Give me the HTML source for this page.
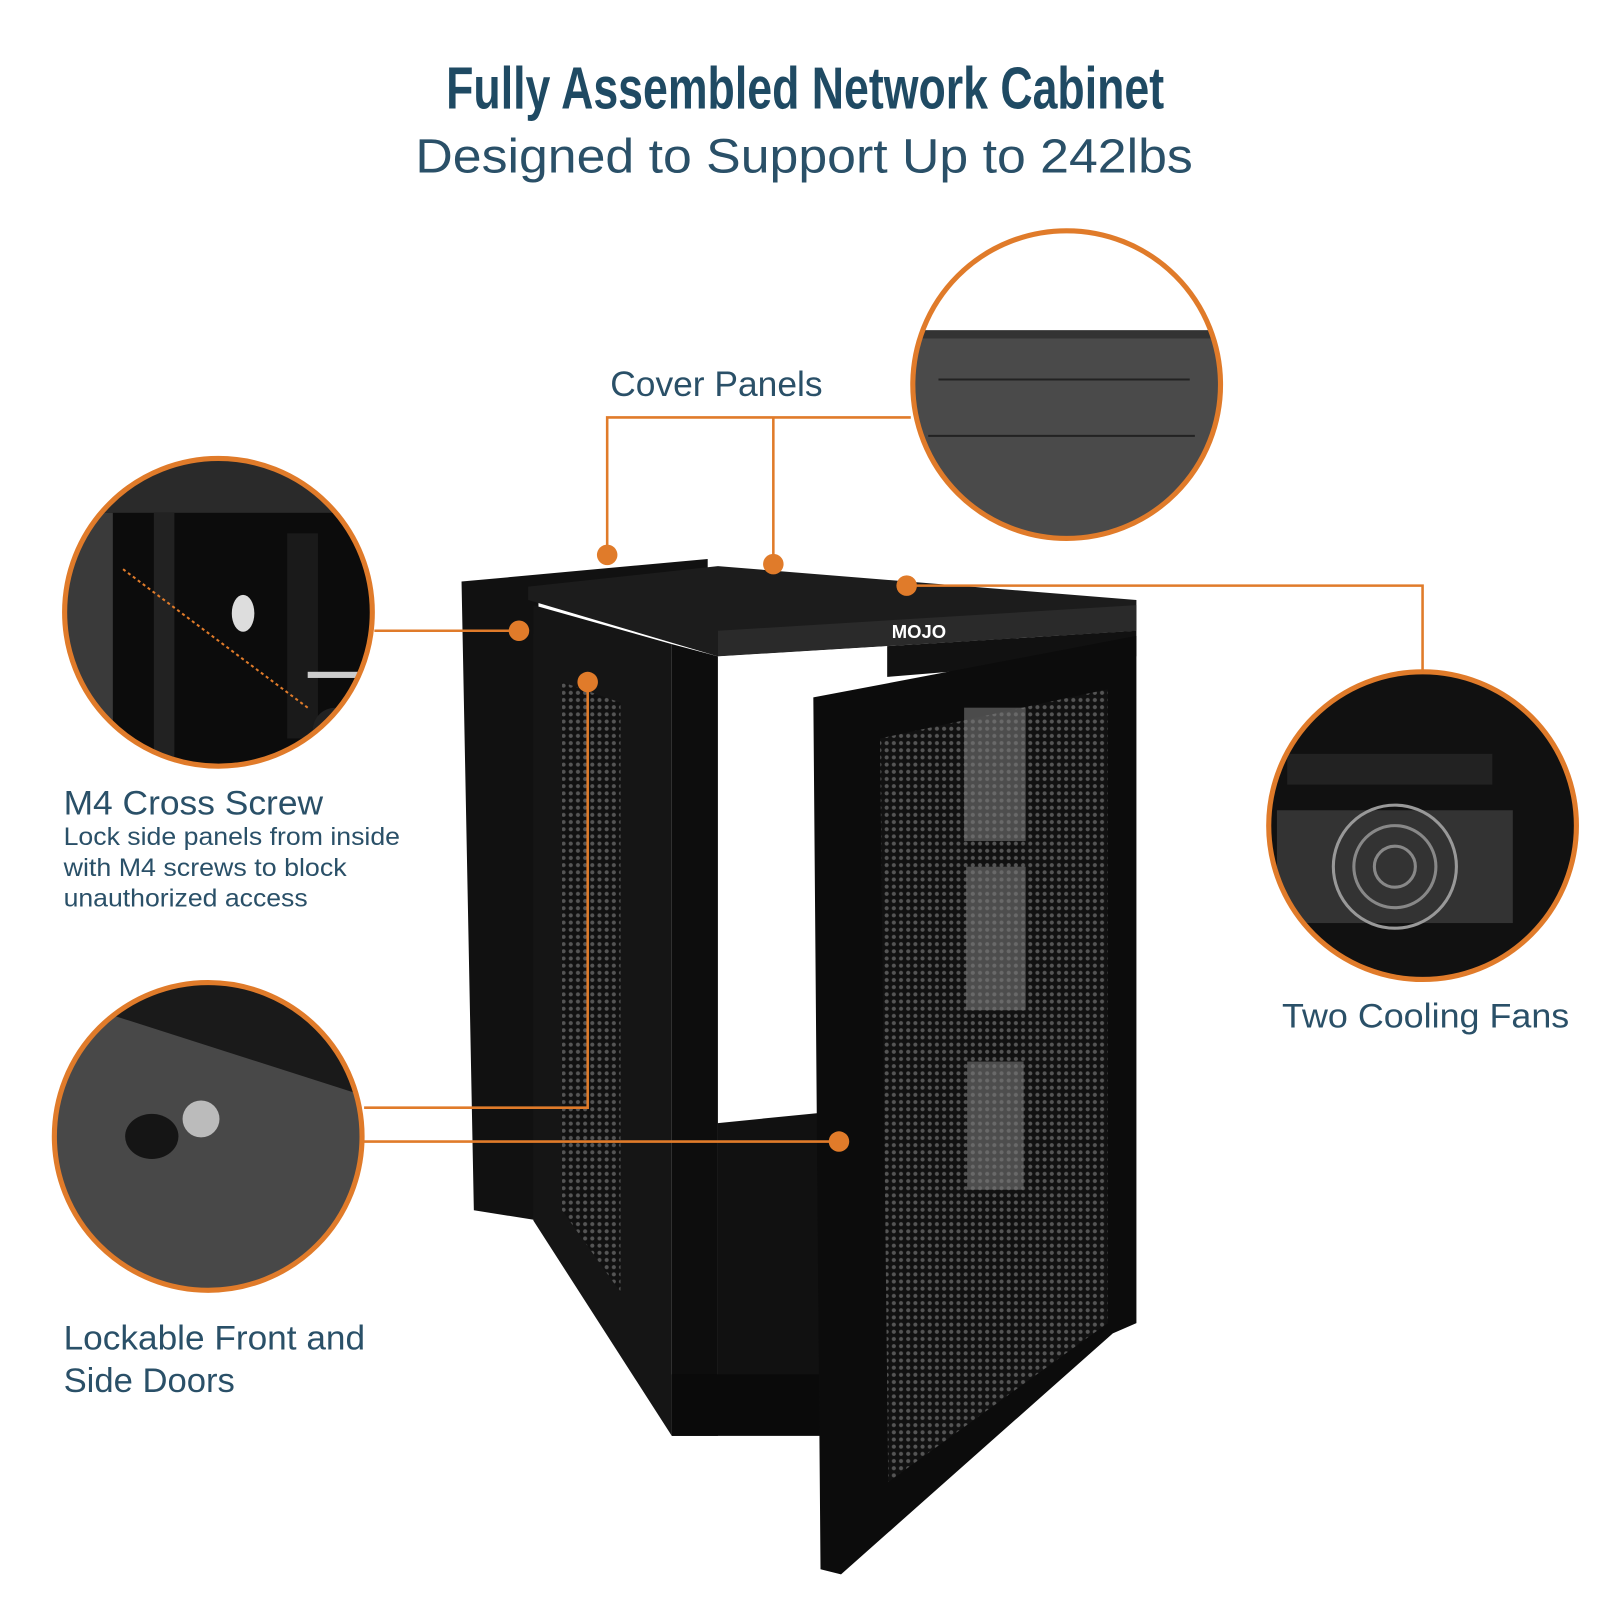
<!DOCTYPE html>
<html><head><meta charset="utf-8"><style>
html,body{margin:0;padding:0;background:#fff;width:1600px;height:1600px;overflow:hidden}
svg{display:block}
</style></head><body>
<svg width="1600" height="1600" viewBox="0 0 1560 1560" xmlns="http://www.w3.org/2000/svg">
<defs>
<pattern id="mesh" width="7" height="7" patternUnits="userSpaceOnUse">
<rect width="7" height="7" fill="#111"/><circle cx="3.5" cy="3.5" r="2" fill="#555"/>
</pattern>
<clipPath id="c1"><circle cx="1040" cy="375" r="150"/></clipPath>
<clipPath id="c2"><circle cx="213" cy="597" r="150"/></clipPath>
<clipPath id="c3"><circle cx="203" cy="1108" r="150"/></clipPath>
<clipPath id="c4"><circle cx="1387" cy="805" r="150"/></clipPath>
</defs>
<text x="785" y="106" text-anchor="middle" font-family="Liberation Sans Narrow, Liberation Sans, sans-serif" font-weight="bold" font-size="58" fill="#1f4a63" textLength="700" lengthAdjust="spacingAndGlyphs">Fully Assembled Network Cabinet</text>
<text x="784" y="168" text-anchor="middle" font-family="Liberation Sans, sans-serif" font-size="47" fill="#2a5068" textLength="758" lengthAdjust="spacingAndGlyphs">Designed to Support Up to 242lbs</text>

<g clip-path="url(#c1)"><rect x="880" y="220" width="320" height="320" fill="#fff"/><rect x="880" y="322" width="320" height="220" fill="#4a4a4a"/><line x1="915" y1="370" x2="1160" y2="370" stroke="#222" stroke-width="2"/><line x1="905" y1="425" x2="1165" y2="425" stroke="#222" stroke-width="2"/><rect x="880" y="322" width="320" height="8" fill="#333"/></g>
<circle cx="1040" cy="375" r="150" fill="none" stroke="#e07b2a" stroke-width="5"/>
<g clip-path="url(#c2)"><rect x="60" y="440" width="310" height="310" fill="#0c0c0c"/><rect x="60" y="440" width="310" height="60" fill="#2a2a2a"/><rect x="60" y="500" width="50" height="250" fill="#3a3a3a"/><rect x="150" y="500" width="20" height="250" fill="#222"/><rect x="280" y="520" width="30" height="200" fill="#1a1a1a"/><ellipse cx="237" cy="598" rx="11" ry="18" fill="#ddd"/><line x1="120" y1="555" x2="300" y2="690" stroke="#e07b2a" stroke-width="2" stroke-dasharray="3,3"/><circle cx="327" cy="712" r="22" fill="#222"/><rect x="300" y="655" width="60" height="6" fill="#ccc"/></g>
<circle cx="213" cy="597" r="150" fill="none" stroke="#e07b2a" stroke-width="5"/>
<g clip-path="url(#c3)"><rect x="50" y="955" width="310" height="310" fill="#484848"/><polygon points="50,955 360,955 360,1070 110,990" fill="#1a1a1a"/><circle cx="196" cy="1091" r="18" fill="#bbb"/><ellipse cx="148" cy="1108" rx="26" ry="22" fill="#151515"/></g>
<circle cx="203" cy="1108" r="150" fill="none" stroke="#e07b2a" stroke-width="5"/>
<g clip-path="url(#c4)"><rect x="1235" y="655" width="310" height="310" fill="#111"/><rect x="1245" y="790" width="230" height="110" fill="#333"/><circle cx="1360" cy="845" r="60" fill="none" stroke="#999" stroke-width="3"/><circle cx="1360" cy="845" r="40" fill="none" stroke="#888" stroke-width="3"/><circle cx="1360" cy="845" r="20" fill="none" stroke="#888" stroke-width="3"/><rect x="1255" y="735" width="200" height="30" fill="#222"/></g>
<circle cx="1387" cy="805" r="150" fill="none" stroke="#e07b2a" stroke-width="5"/>

<polygon points="450,567 690,545 690,560 525,580 525,1190 462,1180" fill="#111"/>
<polygon points="515,572 700,552 1108,585 1108,615 700,640 515,585" fill="#1c1c1c"/>
<polygon points="700,615 1108,590 1108,615 700,640" fill="#2a2a2a"/>
<polygon points="520,590 655,628 655,1400 520,1190" fill="#151515"/>
<polygon points="548,665 605,685 605,1260 548,1180" fill="url(#mesh)"/>
<polygon points="655,628 700,640 700,1400 655,1400" fill="#0d0d0d"/>
<polygon points="700,640 865,630 865,660 800,675 800,1085 700,1095" fill="#fff"/>
<polygon points="700,1095 800,1085 800,1350 700,1350" fill="#111"/>
<polygon points="655,1340 800,1340 800,1400 655,1400" fill="#0a0a0a"/>
<polygon points="865,630 1108,615 1108,640 865,660" fill="#111"/>
<polygon points="793,680 1108,620 1108,1290 1085,1300 820,1535 800,1530" fill="#0c0c0c"/>
<polygon points="858,720 1080,672 1080,1290 866,1445" fill="url(#mesh)"/>
<rect x="940" y="690" width="60" height="130" fill="#777" opacity="0.6"/>
<rect x="942" y="845" width="58" height="140" fill="#777" opacity="0.6"/>
<rect x="943" y="1035" width="55" height="125" fill="#777" opacity="0.6"/>
<text x="896" y="622" text-anchor="middle" font-family="Liberation Sans, sans-serif" font-weight="bold" font-size="18" fill="#fff">MOJO</text>

<g stroke="#e07b2a" stroke-width="2.5" fill="none">
<polyline points="592,541 592,407 888,407"/><line x1="754" y1="407" x2="754" y2="550"/>
<polyline points="884,571 1387,571 1387,655"/>
<line x1="365" y1="615" x2="506" y2="615"/>
<polyline points="355,1080 573,1080 573,665"/>
<line x1="355" y1="1113" x2="818" y2="1113"/>
</g>
<g fill="#e07b2a"><circle cx="592" cy="541" r="10"/><circle cx="754" cy="550" r="10"/><circle cx="884" cy="571" r="10"/><circle cx="506" cy="615" r="10"/><circle cx="573" cy="665" r="10"/><circle cx="818" cy="1113" r="10"/></g>

<g font-family="Liberation Sans, sans-serif" fill="#2a5068" lengthAdjust="spacingAndGlyphs">
<text x="595" y="386" font-size="34" textLength="207" lengthAdjust="spacingAndGlyphs">Cover Panels</text>
<text x="62" y="794" font-size="33" textLength="253" lengthAdjust="spacingAndGlyphs">M4 Cross Screw</text>
<text x="62" y="824" font-size="24" textLength="328" lengthAdjust="spacingAndGlyphs">Lock side panels from inside</text>
<text x="62" y="854" font-size="24" textLength="276" lengthAdjust="spacingAndGlyphs">with M4 screws to block</text>
<text x="62" y="884" font-size="24" textLength="238" lengthAdjust="spacingAndGlyphs">unauthorized access</text>
<text x="62" y="1316" font-size="33" textLength="294" lengthAdjust="spacingAndGlyphs">Lockable Front and</text>
<text x="62" y="1357" font-size="33" textLength="167" lengthAdjust="spacingAndGlyphs">Side Doors</text>
<text x="1250" y="1002" font-size="33" textLength="280" lengthAdjust="spacingAndGlyphs">Two Cooling Fans</text>
</g>
</svg>
</body></html>
